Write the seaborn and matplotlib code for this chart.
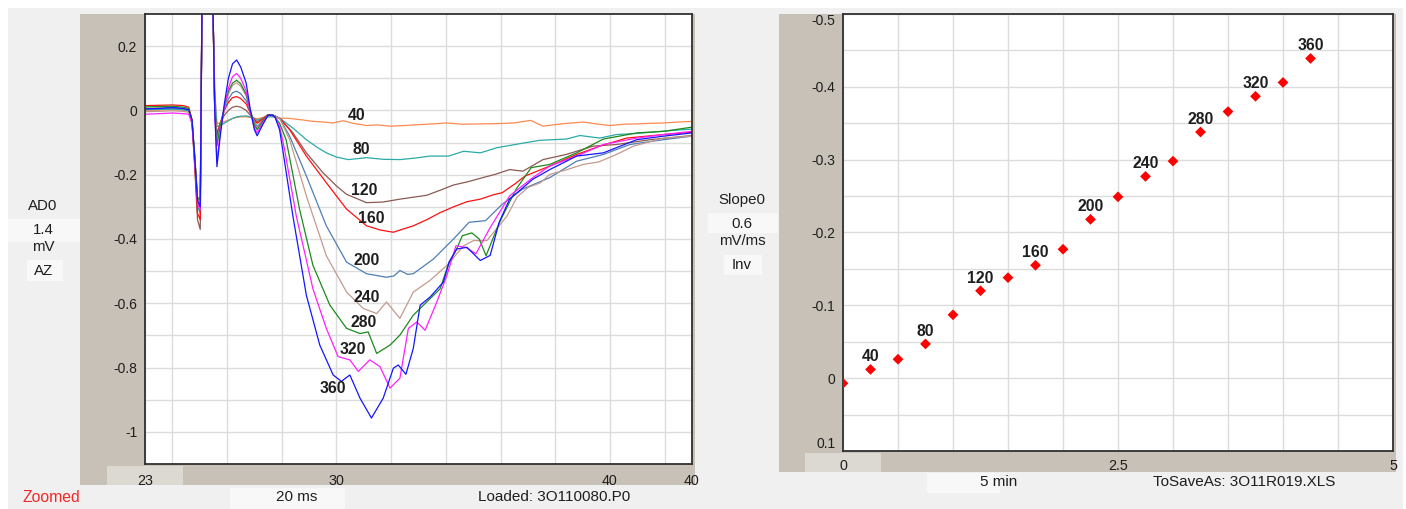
import numpy as np
import pandas as pd
import matplotlib
matplotlib.use("Agg")
import matplotlib.pyplot as plt
from matplotlib.patches import Rectangle
from matplotlib.ticker import FixedLocator, FixedFormatter
import seaborn as sns

# ---------------------------------------------------------------- data
stim_levels = ["40", "80", "120", "160", "200", "240", "280", "320", "360"]

# stimulus artefact + fibre volley, common time base (ms)
t_early = [23.0, 23.5, 24.0, 24.4, 24.6, 24.72, 24.82, 24.92, 25.02, 25.1,
           25.18, 25.3, 25.45, 25.55, 25.63, 25.75, 25.9, 26.05, 26.2, 26.35,
           26.5, 26.7, 26.85, 27.0, 27.1, 27.3, 27.5, 27.65]

early_40 = [0.0, 0.001, 0.003, 0.001, -0.003, -0.035, -0.15, -0.28, -0.30, 0.5,
            0.5, 0.5, 0.4, 0.06, -0.04, -0.04, -0.035, -0.03, -0.025, -0.022,
            -0.02, -0.02, -0.022, -0.024, -0.026, -0.022, -0.018, -0.018]
early_80 = [0.002, 0.003, 0.004, 0.002, -0.002, -0.04, -0.16, -0.30, -0.32, 0.5,
            0.5, 0.5, 0.45, 0.05, -0.05, -0.047, -0.04, -0.032, -0.025, -0.02,
            -0.018, -0.017, -0.02, -0.025, -0.03, -0.025, -0.02, -0.02]
early_120 = [0.006, 0.007, 0.008, 0.006, 0.002, -0.04, -0.18, -0.34, -0.37, 0.5,
             0.5, 0.5, 0.5, 0.0, -0.07, -0.04, -0.015, 0.0, 0.01, 0.013,
             0.01, 0.0, -0.015, -0.028, -0.035, -0.025, -0.013, -0.013]
early_160 = [0.015, 0.016, 0.017, 0.015, 0.01, -0.03, -0.17, -0.32, -0.34, 0.5,
             0.5, 0.5, 0.5, 0.0, -0.08, -0.04, 0.0, 0.025, 0.04, 0.043,
             0.037, 0.02, -0.008, -0.03, -0.04, -0.028, -0.013, -0.013]
early_200 = [0.004, 0.006, 0.007, 0.005, 0.001, -0.035, -0.15, -0.28, -0.30, 0.5,
             0.5, 0.5, 0.5, 0.0, -0.09, -0.045, 0.0, 0.035, 0.055, 0.06,
             0.052, 0.03, -0.005, -0.035, -0.05, -0.032, -0.015, -0.015]
early_240 = [-0.004, -0.003, -0.001, -0.003, -0.006, -0.04, -0.15, -0.27, -0.29, 0.5,
             0.5, 0.5, 0.5, 0.0, -0.10, -0.05, 0.005, 0.05, 0.078, 0.086,
             0.075, 0.045, 0.0, -0.04, -0.055, -0.035, -0.015, -0.015]
early_280 = [0.011, 0.012, 0.013, 0.010, 0.006, -0.03, -0.14, -0.27, -0.28, 0.5,
             0.5, 0.5, 0.5, 0.0, -0.11, -0.05, 0.01, 0.06, 0.085, 0.094,
             0.083, 0.05, 0.0, -0.045, -0.06, -0.035, -0.013, -0.013]
early_320 = [-0.012, -0.010, -0.008, -0.010, -0.012, -0.04, -0.16, -0.29, -0.31, 0.5,
             0.5, 0.5, 0.5, 0.0, -0.16, -0.07, 0.01, 0.07, 0.105, 0.115,
             0.10, 0.06, -0.005, -0.055, -0.07, -0.04, -0.015, -0.015]
early_360 = [0.005, 0.006, 0.009, 0.006, 0.002, -0.03, -0.15, -0.28, -0.30, 0.5,
             0.5, 0.5, 0.5, 0.0, -0.175, -0.08, 0.02, 0.10, 0.145, 0.157,
             0.135, 0.085, 0.003, -0.06, -0.079, -0.045, -0.015, -0.015]

# fEPSP part of each sweep (ms, mV)
t_late_40 = [27.92, 28.3, 28.8, 29.14, 29.5, 29.88, 30.24, 30.6, 31.1, 31.5, 31.96,
             32.5, 33.06, 33.5, 34.04, 34.6, 35.26, 35.9, 36.48, 37.1, 37.55, 38.2,
             39.02, 39.5, 40.0, 40.5, 40.98, 41.5, 41.96, 42.5, 43.0]
v_late_40 = [-0.024, -0.025, -0.03, -0.034, -0.036, -0.039, -0.032, -0.04, -0.047, -0.045,
             -0.049, -0.047, -0.044, -0.042, -0.039, -0.043, -0.042, -0.041, -0.039,
             -0.031, -0.049, -0.042, -0.036, -0.042, -0.047, -0.043, -0.042, -0.040,
             -0.039, -0.036, -0.034]

t_late_80 = [27.92, 28.41, 28.9, 29.3, 29.63, 30.0, 30.43, 31.1, 31.7, 32.32, 32.9,
             33.42, 34.1, 34.65, 35.26, 35.87, 36.6, 37.43, 38.41, 38.9, 39.63, 40.24,
             40.9, 41.47, 42.2, 43.0]
v_late_80 = [-0.024, -0.055, -0.091, -0.115, -0.132, -0.145, -0.153, -0.147, -0.152,
             -0.153, -0.148, -0.142, -0.142, -0.127, -0.132, -0.116, -0.105, -0.093,
             -0.089, -0.078, -0.086, -0.075, -0.072, -0.068, -0.063, -0.058]

t_late_120 = [27.92, 28.41, 28.9, 29.51, 30.0, 30.37, 31.1, 31.7, 32.32, 33.3, 33.8,
              34.28, 34.8, 35.35, 35.8, 36.33, 36.82, 37.55, 38.4, 39.39, 40.24, 40.9,
              41.47, 42.2, 43.0]
v_late_120 = [-0.024, -0.07, -0.132, -0.194, -0.235, -0.261, -0.287, -0.285, -0.276,
              -0.264, -0.248, -0.232, -0.222, -0.209, -0.199, -0.184, -0.189, -0.153,
              -0.137, -0.111, -0.106, -0.098, -0.091, -0.085, -0.078]

t_late_160 = [27.92, 28.29, 28.9, 29.63, 30.37, 31.1, 31.6, 32.08, 32.4, 32.81, 33.3,
              33.79, 34.28, 34.77, 35.26, 35.75, 36.06, 36.5, 36.9, 37.8, 38.78, 39.63,
              40.61, 41.96, 43.0]
v_late_160 = [-0.024, -0.06, -0.142, -0.225, -0.307, -0.359, -0.372, -0.379, -0.37,
              -0.359, -0.34, -0.318, -0.3, -0.284, -0.276, -0.262, -0.256, -0.23,
              -0.204, -0.173, -0.137, -0.111, -0.086, -0.075, -0.068]

t_late_200 = [27.92, 28.29, 28.9, 29.63, 30.37, 31.1, 31.83, 32.1, 32.32, 32.6, 32.81,
              33.55, 34.28, 34.85, 35.45, 36.06, 36.8, 37.8, 38.78, 39.76, 40.73,
              41.96, 43.0]
v_late_200 = [-0.024, -0.08, -0.204, -0.359, -0.472, -0.508, -0.519, -0.515, -0.498,
              -0.51, -0.508, -0.462, -0.40, -0.348, -0.343, -0.292, -0.245, -0.209,
              -0.158, -0.137, -0.106, -0.091, -0.08]

t_late_240 = [27.92, 28.29, 28.9, 29.63, 30.37, 30.98, 31.47, 31.83, 32.32, 32.81,
              33.42, 34.04, 34.65, 35.01, 35.5, 36.24, 36.6, 37.0, 37.46, 37.8, 38.4,
              39.02, 39.6, 40.24, 40.86, 41.96, 43.0]
v_late_240 = [-0.024, -0.091, -0.266, -0.452, -0.565, -0.616, -0.632, -0.596, -0.647,
              -0.565, -0.529, -0.482, -0.421, -0.405, -0.405, -0.328, -0.27, -0.24,
              -0.225, -0.199, -0.185, -0.168, -0.16, -0.137, -0.111, -0.086, -0.08]

t_late_280 = [27.75, 27.92, 28.16, 28.65, 29.14, 29.76, 30.37, 30.86, 31.16, 31.47,
              31.96, 32.32, 32.81, 33.3, 33.79, 34.12, 34.4, 34.6, 34.95, 35.22, 35.47,
              35.96, 36.57, 37.12, 37.8, 38.78, 39.76, 40.98, 41.96, 43.0]
v_late_280 = [-0.02, -0.04, -0.091, -0.307, -0.482, -0.606, -0.678, -0.694, -0.689,
              -0.756, -0.73, -0.699, -0.637, -0.596, -0.555, -0.472, -0.43, -0.39,
              -0.381, -0.40, -0.452, -0.348, -0.245, -0.178, -0.168, -0.132, -0.089,
              -0.07, -0.065, -0.052]

t_late_320 = [27.75, 27.92, 28.1, 28.53, 29.14, 29.63, 30.06, 30.49, 30.8, 31.22, 31.59,
              31.96, 32.32, 32.63, 32.94, 33.24, 33.67, 34.04, 34.37, 34.73, 35.1, 35.59,
              36.33, 37.18, 37.8, 38.78, 39.76, 40.98, 41.96, 43.0]
v_late_320 = [-0.02, -0.05, -0.12, -0.328, -0.555, -0.678, -0.766, -0.776, -0.812,
              -0.776, -0.797, -0.864, -0.833, -0.678, -0.658, -0.684, -0.596, -0.513,
              -0.421, -0.426, -0.446, -0.369, -0.266, -0.209, -0.173, -0.142, -0.106,
              -0.086, -0.075, -0.065]

t_late_360 = [27.75, 27.92, 28.05, 28.41, 28.9, 29.39, 29.88, 30.18, 30.49, 30.86,
              31.28, 31.71, 32.08, 32.26, 32.54, 32.81, 33.06, 33.43, 33.91, 34.12,
              34.4, 34.77, 35.26, 35.62, 35.95, 36.33, 37.18, 37.8, 38.78, 39.76,
              40.98, 41.96, 43.0]
v_late_360 = [-0.02, -0.06, -0.13, -0.33, -0.575, -0.73, -0.823, -0.843, -0.823,
              -0.895, -0.957, -0.895, -0.802, -0.792, -0.821, -0.74, -0.606, -0.58,
              -0.534, -0.472, -0.431, -0.426, -0.467, -0.451, -0.348, -0.276, -0.214,
              -0.184, -0.142, -0.132, -0.091, -0.08, -0.07]

# slope of each response versus time (min, mV/ms)
slope_time = [0.0, 0.25, 0.5, 0.75, 1.0, 1.25, 1.5, 1.75, 2.0, 2.25, 2.5, 2.75,
              3.0, 3.25, 3.5, 3.75, 4.0, 4.25]
slope_vals = [0.007, -0.012, -0.026, -0.047, -0.087, -0.120, -0.138, -0.155,
              -0.177, -0.218, -0.249, -0.277, -0.298, -0.338, -0.366, -0.387,
              -0.406, -0.439]
point_labels = ["", "40", "", "80", "", "120", "", "160", "", "200", "", "240",
                "", "280", "", "320", "", "360"]

# axis tick labels
left_xticks = [23, 30, 40, 43]
left_xticklabels = ["23", "30", "40", "40"]
left_yticks = [0.2, 0.0, -0.2, -0.4, -0.6, -0.8, -1.0]
left_yticklabels = ["0.2", "0", "-0.2", "-0.4", "-0.6", "-0.8", "-1"]
right_xticks = [0, 2.5, 5]
right_xticklabels = ["0", "2.5", "5"]
right_yticks = [-0.5, -0.4, -0.3, -0.2, -0.1, 0.0, 0.1]
right_yticklabels = ["-0.5", "-0.4", "-0.3", "-0.2", "-0.1", "0", "0.1"]

# ---------------------------------------------------------------- styling
trace_colors = {"40": "#ff8a50", "80": "#2aaaa8", "120": "#8c5a52",
                "160": "#ff1010", "200": "#4f7fb5", "240": "#c49a8e",
                "280": "#1c8a1c", "320": "#ff20ff", "360": "#1515ff"}
trace_label_x = [30.75, 30.9, 31.02, 31.26, 31.11, 31.09, 31.01, 30.6, 29.87]
trace_label_y = [-0.015, -0.123, -0.248, -0.335, -0.466, -0.582, -0.66, -0.743, -0.864]

BG_OUTER = "#f0f0f0"
BAND = "#c8c1b8"
BAND_LIGHT = "#dcd8d2"
TEXT_BOX = "#f8f8f8"
INK = "#1e1e1e"
GRID = "#dcdcdc"

W, H = 1406, 509
sns.set_style("white")
plt.rcParams["font.family"] = ["Liberation Sans", "DejaVu Sans"]

fig = plt.figure(figsize=(W / 100, H / 100), dpi=100, facecolor="white")


def fx(x):
    return x / W


def fy(y):
    return 1 - y / H


def block(x0, y0, x1, y1, color, z):
    fig.patches.append(Rectangle((fx(x0), fy(y1)), (x1 - x0) / W, (y1 - y0) / H,
                                 transform=fig.transFigure, facecolor=color,
                                 edgecolor="none", zorder=z))


# window background and side bands
block(8, 8, 1403, 509, BG_OUTER, -5)
block(80, 14, 145, 485, BAND, -4)
block(80, 464, 695, 485, BAND, -4)
block(692, 14, 695, 485, BAND, -4)
block(107, 466, 183, 485, BAND_LIGHT, -3)
block(779, 14, 843, 472, BAND, -4)
block(779, 451, 1396, 472, BAND, -4)
block(1393, 14, 1396, 472, BAND, -4)
block(805, 453, 881, 472, BAND_LIGHT, -3)
block(8, 219, 80, 242, TEXT_BOX, -3)
block(27, 260, 63, 281, TEXT_BOX, -3)
block(708, 213, 778, 233, TEXT_BOX, -3)
block(724, 255, 762, 275, TEXT_BOX, -3)
block(230, 488, 345, 509, TEXT_BOX, -3)
block(927, 473, 1000, 493, TEXT_BOX, -3)

axL = fig.add_axes([fx(145), fy(464), 547 / W, 450 / H])
axR = fig.add_axes([fx(843), fy(451), 550 / W, 437 / H])

# ---------------------------------------------------------------- sweeps
early_sets = [early_40, early_80, early_120, early_160, early_200,
              early_240, early_280, early_320, early_360]
late_t_sets = [t_late_40, t_late_80, t_late_120, t_late_160, t_late_200,
               t_late_240, t_late_280, t_late_320, t_late_360]
late_v_sets = [v_late_40, v_late_80, v_late_120, v_late_160, v_late_200,
               v_late_240, v_late_280, v_late_320, v_late_360]

frames = []
for lab, ev, lt, lv in zip(stim_levels, early_sets, late_t_sets, late_v_sets):
    frames.append(pd.DataFrame({"t": list(t_early) + list(lt),
                                "v": list(ev) + list(lv),
                                "stim": lab}))
sweeps = pd.concat(frames, ignore_index=True)

sns.lineplot(data=sweeps, x="t", y="v", hue="stim", hue_order=stim_levels,
             palette=trace_colors, estimator=None, sort=False, linewidth=0.9,
             legend=False, ax=axL)

for lab, x, y in zip(stim_levels, trace_label_x, trace_label_y):
    axL.text(x, y, lab, ha="center", va="center", fontsize=11.3,
             fontweight="bold", color=INK, zorder=5)

# ---------------------------------------------------------------- slope plot
sns.scatterplot(x=slope_time, y=slope_vals, marker="D", s=30, color="#ff0000",
                edgecolor="none", linewidth=0, ax=axR, zorder=4)
for x, y, lab in zip(slope_time, slope_vals, point_labels):
    if lab:
        axR.annotate(lab, (x, y), xytext=(0, 12.5), textcoords="offset pixels",
                     ha="center", va="center", fontsize=11.3, fontweight="bold",
                     color=INK, zorder=5)


# ---------------------------------------------------------------- axes look
def frame(ax):
    ax.set_facecolor("white")
    for sp in ax.spines.values():
        sp.set_visible(True)
        sp.set_color("#303030")
        sp.set_linewidth(1.3)
    ax.set_axisbelow(True)
    ax.grid(which="both", color=GRID, linewidth=1.0)
    ax.tick_params(which="minor", length=0)
    ax.tick_params(which="major", direction="out", color="#303030",
                   labelcolor=INK, width=1.0)
    ax.tick_params(axis="x", which="major", length=4, pad=3, labelsize=10.3)
    ax.tick_params(axis="y", which="major", length=4, pad=1.5, labelsize=10)
    ax.set_xlabel("")
    ax.set_ylabel("")


axL.set_xlim(23, 43)
axL.set_ylim(-1.1, 0.3)
axL.xaxis.set_major_locator(FixedLocator(left_xticks))
axL.xaxis.set_major_formatter(FixedFormatter(left_xticklabels))
axL.yaxis.set_major_locator(FixedLocator(left_yticks))
axL.yaxis.set_major_formatter(FixedFormatter(left_yticklabels))
axL.xaxis.set_minor_locator(FixedLocator(np.arange(24, 43, 2)))
axL.yaxis.set_minor_locator(FixedLocator(np.round(np.arange(-1.0, 0.25, 0.1), 2)))
frame(axL)

axR.set_xlim(0, 5)
axR.set_ylim(0.1, -0.5)
axR.xaxis.set_major_locator(FixedLocator(right_xticks))
axR.xaxis.set_major_formatter(FixedFormatter(right_xticklabels))
axR.yaxis.set_major_locator(FixedLocator(right_yticks))
axR.yaxis.set_major_formatter(FixedFormatter(right_yticklabels))
axR.xaxis.set_minor_locator(FixedLocator(np.arange(0.5, 5.0, 0.5)))
axR.yaxis.set_minor_locator(FixedLocator(np.round(np.arange(-0.45, 0.1, 0.05), 3)))
frame(axR)
axR.tick_params(axis="x", which="major", pad=1.5)

fig.canvas.draw()
ylabs = axR.get_yticklabels()
ylabs[0].set_va("top")
ylabs[-1].set_va("bottom")

# ---------------------------------------------------------------- side texts
side = dict(ha="center", va="center", fontsize=10.8, color=INK)
fig.text(fx(43), fy(206), "AD0", **side)
fig.text(fx(43), fy(230), "1.4", **side)
fig.text(fx(43), fy(247), "mV", **side)
fig.text(fx(44), fy(271), "AZ", **side)
fig.text(fx(742), fy(200), "Slope0", **side)
fig.text(fx(742), fy(224), "0.6", **side)
fig.text(fx(742), fy(241), "mV/ms", **side)
fig.text(fx(742), fy(265), "Inv", **side)

foot = dict(ha="center", va="center", fontsize=11, color=INK)
fig.text(fx(51), fy(497), "Zoomed", ha="center", va="center", fontsize=11.3,
         color="#f02828")
fig.text(fx(297), fy(497), "20 ms", **foot)
fig.text(fx(554), fy(497), "Loaded: 3O110080.P0", **foot)
fig.text(fx(999), fy(482), "5 min", **foot)
fig.text(fx(1244), fy(482), "ToSaveAs: 3O11R019.XLS", **foot)

fig.savefig("out.png", dpi=100, facecolor=fig.get_facecolor())
